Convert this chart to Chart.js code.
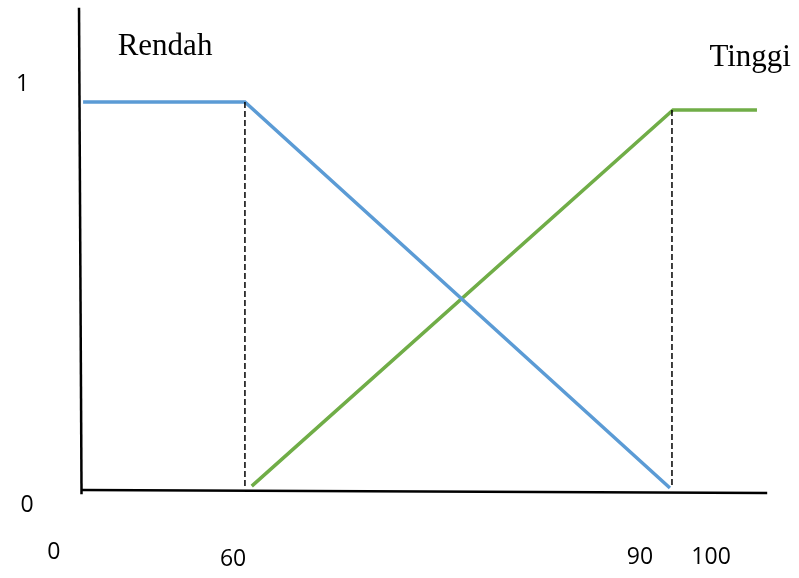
<!DOCTYPE html>
<html>
<head>
<meta charset="utf-8">
<script src="https://cdn.jsdelivr.net/npm/chart.js@4/dist/chart.umd.min.js"></script>
<style>
  html, body { margin: 0; padding: 0; background: #fff; }
  canvas { display: block; }
</style>
</head>
<body>
<canvas id="chart" width="799" height="578"></canvas>
<script>
// Sketch of two membership functions (drawing units on x, degree on y)
const rendahX = [0.6, 24.4, 86.9];
const rendahY = [1, 1, 0];
const tinggiX = [25.4, 87.35, 99.7];
const tinggiY = [0.005, 0.979, 0.979];

// Dashed guides and hand-drawn axes
const guideX = [24.4, 87.2];
const guideTop = [1, 0.979];
const yAxisX = [0, 0.37];
const yAxisY = [1.244, -0.016];
const xAxisX = [0.44, 101.2];
const xAxisY = [-0.005, -0.013];

// Text labels
const tickLabels = ["1", "0", "0", "60", "90", "100"];
const tickX = [-8.3, -7.65, -3.7, 22.65, 82.5, 92.95];
const tickY = [1.044, -0.044, -0.168, -0.184, -0.181, -0.181];
const seriesNames = ["Rendah", "Tinggi"];
const nameX = [12.65, 98.7];
const nameY = [1.142, 1.114];

const toPoints = (xs, ys) => xs.map((x, i) => ({ x: x, y: ys[i] }));

const lineStyle = { showLine: true, pointRadius: 0, fill: false, tension: 0 };

const datasets = [
  Object.assign({ data: toPoints(yAxisX, yAxisY), borderColor: "#000", borderWidth: 2.5 }, lineStyle),
  Object.assign({ data: toPoints(xAxisX, xAxisY), borderColor: "#000", borderWidth: 2.5 }, lineStyle),
];
guideX.forEach((x, i) => {
  datasets.push(Object.assign({
    data: [{ x: x, y: guideTop[i] }, { x: x, y: 0 }],
    borderColor: "#000", borderWidth: 1.5, borderDash: [6, 3]
  }, lineStyle));
});
datasets.push(Object.assign({ data: toPoints(rendahX, rendahY), borderColor: "#5B9BD5", borderWidth: 3.5 }, lineStyle));
datasets.push(Object.assign({ data: toPoints(tinggiX, tinggiY), borderColor: "#70AD47", borderWidth: 3.5 }, lineStyle));

const labelPlugin = {
  id: "labels",
  afterDatasetsDraw(chart) {
    const ctx = chart.ctx;
    const xs = chart.scales.x, ys = chart.scales.y;
    ctx.save();
    ctx.fillStyle = "#000";
    ctx.textAlign = "center";
    ctx.textBaseline = "middle";
    ctx.font = "23px 'Open Sans', sans-serif";
    tickLabels.forEach((t, i) => {
      ctx.fillText(t, xs.getPixelForValue(tickX[i]), ys.getPixelForValue(tickY[i]));
    });
    ctx.font = "31px 'Liberation Serif', 'Times New Roman', serif";
    seriesNames.forEach((t, i) => {
      ctx.fillText(t, xs.getPixelForValue(nameX[i]), ys.getPixelForValue(nameY[i]));
    });
    ctx.restore();
  }
};

new Chart(document.getElementById("chart"), {
  type: "scatter",
  data: { datasets: datasets },
  options: {
    responsive: false,
    animation: false,
    layout: { padding: 0 },
    plugins: { legend: { display: false }, tooltip: { enabled: false } },
    scales: {
      x: { type: "linear", min: -11.62, max: 105.88, display: false },
      y: { type: "linear", min: -0.233, max: 1.264, display: false }
    }
  },
  plugins: [labelPlugin]
});
</script>
</body>
</html>
